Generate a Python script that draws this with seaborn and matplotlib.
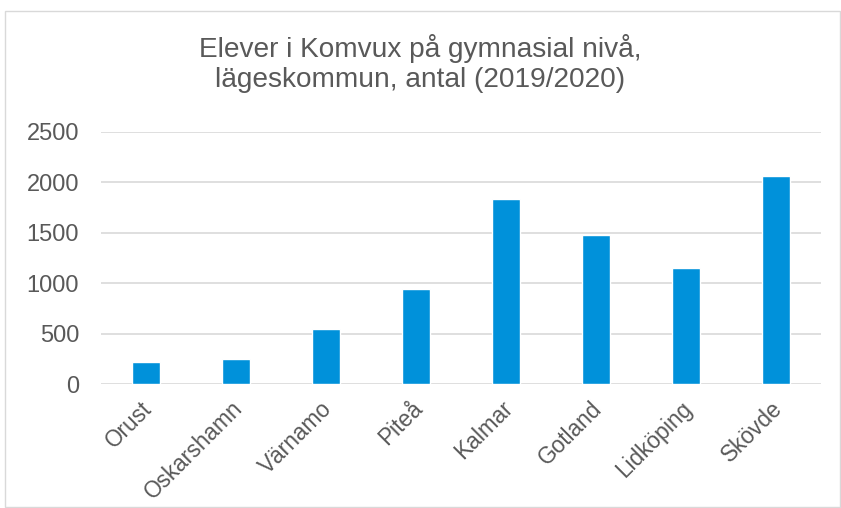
import matplotlib
matplotlib.use('Agg')
import matplotlib.pyplot as plt
import matplotlib.patches as mpatches
import matplotlib.transforms as mtransforms
import seaborn as sns
import pandas as pd

kommuner = ['Orust', 'Oskarshamn', 'Värnamo', 'Piteå', 'Kalmar', 'Gotland', 'Lidköping', 'Skövde']
elever = [218, 250, 545, 944, 1838, 1478, 1155, 2062]
yticks = [0, 500, 1000, 1500, 2000, 2500]

df = pd.DataFrame({'kommun': kommuner, 'elever': elever})

sns.set_theme(style='white')
plt.rcParams['font.family'] = ['Liberation Sans', 'DejaVu Sans']

fig = plt.figure(figsize=(8.41, 5.08), dpi=100)
ax = fig.add_axes([0.1197, 0.2435, 0.8563, 0.4972])

sns.barplot(data=df, x='kommun', y='elever', color='#0091DA', width=0.31,
            saturation=1, ax=ax, zorder=3)

ax.set_ylim(0, 2500)
ax.set_xlim(-0.5, len(kommuner) - 0.5)
ax.set_yticks(yticks)
ax.set_yticklabels([str(t) for t in yticks], fontsize=17, color='#595959')
ax.yaxis.grid(True, color='#D9D9D9', linewidth=1.2, zorder=0)
ax.set_xticks(range(len(kommuner)))
ax.set_xticklabels(kommuner, rotation=45, ha='right', rotation_mode='anchor',
                   fontsize=16.3, color='#595959')
ax.tick_params(axis='x', length=0, pad=9)
ax.tick_params(axis='y', length=0, pad=15.5)
offset = mtransforms.ScaledTranslation(-5 / 100, 0, fig.dpi_scale_trans)
for lab in ax.get_xticklabels():
    lab.set_transform(lab.get_transform() + offset)
for s in ax.spines.values():
    s.set_visible(False)
ax.set_xlabel('')
ax.set_ylabel('')

fig.text(0.5, 0.875, 'Elever i Komvux på gymnasial nivå,\nlägeskommun, antal (2019/2020)',
         ha='center', va='center', fontsize=20.2, color='#595959', linespacing=1.2)

border = mpatches.Rectangle((5 / 841, 1 / 508), 835 / 841, 496 / 508, transform=fig.transFigure,
                            fill=False, edgecolor='#D9D9D9', linewidth=1)
fig.patches.append(border)

fig.savefig('out.png', dpi=100)
